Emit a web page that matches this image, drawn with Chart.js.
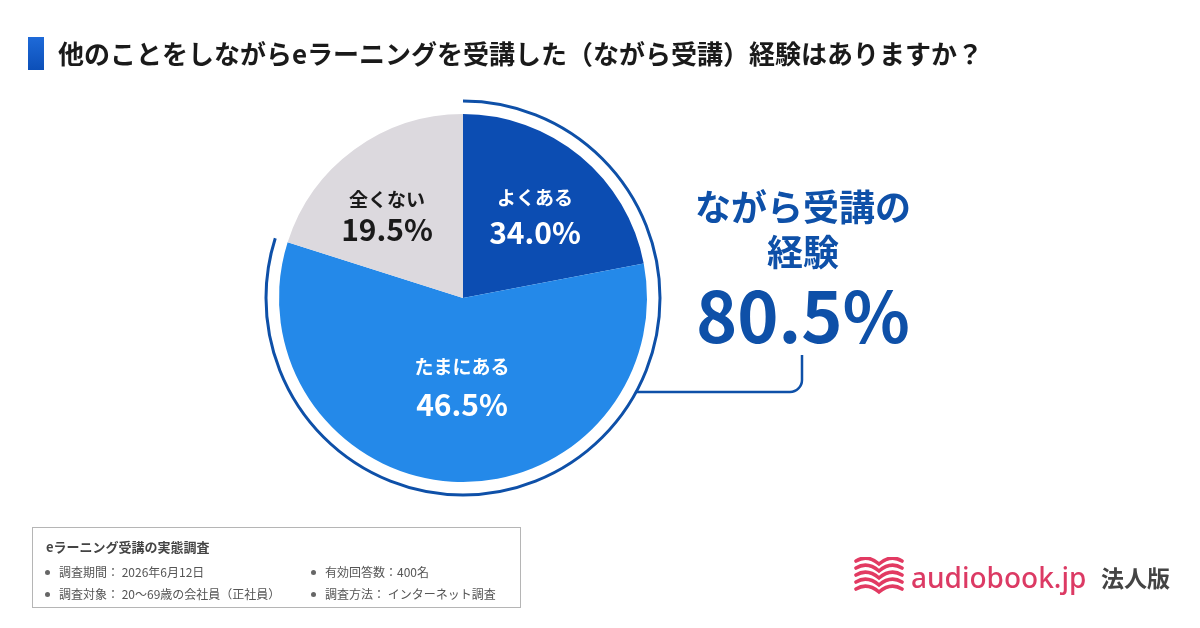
<!DOCTYPE html>
<html lang="ja">
<head>
<meta charset="utf-8">
<script src="https://cdn.jsdelivr.net/npm/chart.js@4"></script>
<style>
    body { margin: 0; background: #fff; font-family: "Noto Sans CJK JP", "Noto Sans", sans-serif; }
    #wrap { position: relative; width: 1200px; height: 628px; overflow: hidden; }
    #chart { position: absolute; left: 0; top: 0; }
    .title-bar { position: absolute; left: 28px; top: 37px; width: 16px; height: 33px; background: linear-gradient(#1e6ad8, #0c4fb8); }
    .title { position: absolute; left: 58px; top: 34px; font-size: 26px; font-weight: 700; color: #1a1a1a; line-height: 38px; white-space: nowrap; }
    .callout { position: absolute; left: 653px; width: 300px; text-align: center; color: #0e50a8; font-weight: 700; white-space: nowrap; }
    .note { position: absolute; left: 32px; top: 527px; width: 489px; height: 81px; border: 1px solid #b5b5b5; box-sizing: border-box; color: #555; }
    .note h4 { position: absolute; left: 13px; top: 9px; margin: 0; font-size: 13px; font-weight: 700; color: #444; }
    .note .item { position: absolute; font-size: 12px; white-space: nowrap; }
    .note .item::before { content: ""; position: absolute; left: -14px; top: 7px; width: 5px; height: 5px; border-radius: 50%; background: #666; }
    .logo-text { position: absolute; left: 911px; top: 557px; font-family: "Noto Sans", sans-serif; font-size: 28px; font-weight: 500; color: #dc3a64; line-height: 40px; }
    .logo-sub { position: absolute; left: 1101px; top: 562px; font-size: 23px; font-weight: 700; color: #444; line-height: 30px; }
    #icon { position: absolute; left: 854px; top: 557px; }
</style>
</head>
<body>
<div id="wrap">
    <canvas id="chart" width="1200" height="628"></canvas>
    <div class="title-bar"></div>
    <div class="title">他のことをしながらeラーニングを受講した（ながら受講）経験はありますか？</div>
    <div class="callout" style="top:182px;font-size:36px;line-height:46px;">ながら受講の</div>
    <div class="callout" style="top:227px;font-size:36px;line-height:46px;">経験</div>
    <div class="callout" id="total" style="top:268px;font-size:70px;line-height:90px;"></div>
    <div class="note">
        <h4>eラーニング受講の実態調査</h4>
        <div class="item" style="left:26px;top:35px;">調査期間： 2026年6月12日</div>
        <div class="item" style="left:26px;top:57px;">調査対象： 20～69歳の会社員（正社員）</div>
        <div class="item" style="left:292px;top:35px;">有効回答数：400名</div>
        <div class="item" style="left:292px;top:57px;">調査方法： インターネット調査</div>
    </div>
    <svg id="icon" width="50" height="38" viewBox="0 0 50 38">
        <g fill="none" stroke="#e23a62" stroke-width="3.6" stroke-linecap="round">
            <path d="M2 4 C10 -1 18 1 25 7 C32 1 40 -1 48 4"/>
            <path d="M2 11 C10 6 18 8 25 14 C32 8 40 6 48 11"/>
            <path d="M2 18 C10 13 18 15 25 21 C32 15 40 13 48 18"/>
            <path d="M2 25 C10 20 18 22 25 28 C32 22 40 20 48 25"/>
            <path d="M2 32 C10 27 18 29 25 35 C32 29 40 27 48 32"/>
        </g>
    </svg>
    <div class="logo-text">audiobook.jp</div>
    <div class="logo-sub">法人版</div>
</div>
<script>
const categories = ["よくある", "たまにある", "全くない"];
// figures printed on the slices (%)
const printedShares = [34.0, 46.5, 19.5];
// slice sizes as actually drawn in the original (measured angles, %)
const sliceShares = [22.0, 57.9, 20.1];
const sliceColors = ["#0c4db2", "#2489e9", "#dcd9de"];
const labelColors = ["#ffffff", "#ffffff", "#1a1a1a"];
// slices grouped as "ながら受講の経験"
const experienceGroup = [0, 1];

const experienceTotal = experienceGroup.reduce((s, i) => s + printedShares[i], 0);
document.getElementById("total").textContent = experienceTotal.toFixed(1) + "%";

// label offsets from pie centre, per slice
const labelOffsets = [[72, -100, -65], [-1, 69, 107], [-76, -98, -68]];

const bracketPlugin = {
    id: "bracket",
    afterDatasetsDraw(chart) {
        const ctx = chart.ctx;
        const arcs = chart.getDatasetMeta(0).data;
        const first = arcs[experienceGroup[0]];
        const last = arcs[experienceGroup[experienceGroup.length - 1]];
        const cx = first.x, cy = first.y;
        const R = first.outerRadius + 13;

        ctx.save();
        ctx.strokeStyle = "#0e50a8";
        ctx.lineWidth = 3;
        ctx.beginPath();
        ctx.arc(cx, cy, R, first.startAngle, last.endAngle);
        ctx.stroke();

        // connector to the callout
        const ly = cy + 94;
        const lx = cx + Math.sqrt(R * R - 94 * 94);
        const ex = 802, top = 355, r = 12;
        ctx.lineWidth = 2.5;
        ctx.beginPath();
        ctx.moveTo(lx, ly);
        ctx.lineTo(ex - r, ly);
        ctx.arcTo(ex, ly, ex, ly - r, r);
        ctx.lineTo(ex, top);
        ctx.stroke();

        // slice labels
        ctx.textAlign = "center";
        ctx.textBaseline = "middle";
        arcs.forEach((a, i) => {
            const [dx, dy1, dy2] = labelOffsets[i];
            ctx.fillStyle = labelColors[i];
            ctx.font = "700 19px 'Noto Sans CJK JP'";
            ctx.fillText(categories[i], cx + dx, cy + dy1);
            ctx.font = "700 30px 'Noto Sans CJK JP'";
            ctx.fillText(printedShares[i].toFixed(1) + "%", cx + dx, cy + dy2);
        });
        ctx.restore();
    },
};

new Chart(document.getElementById("chart"), {
    type: "pie",
    data: {
        labels: categories,
        datasets: [
            {
                data: sliceShares,
                backgroundColor: sliceColors,
                borderWidth: 0,
            },
        ],
    },
    options: {
        responsive: false,
        animation: false,
        layout: {
            padding: { left: 279, right: 553, top: 114, bottom: 146 },
        },
        plugins: {
            legend: { display: false },
            tooltip: { enabled: false },
        },
    },
    plugins: [bracketPlugin],
});
</script>
</body>
</html>
